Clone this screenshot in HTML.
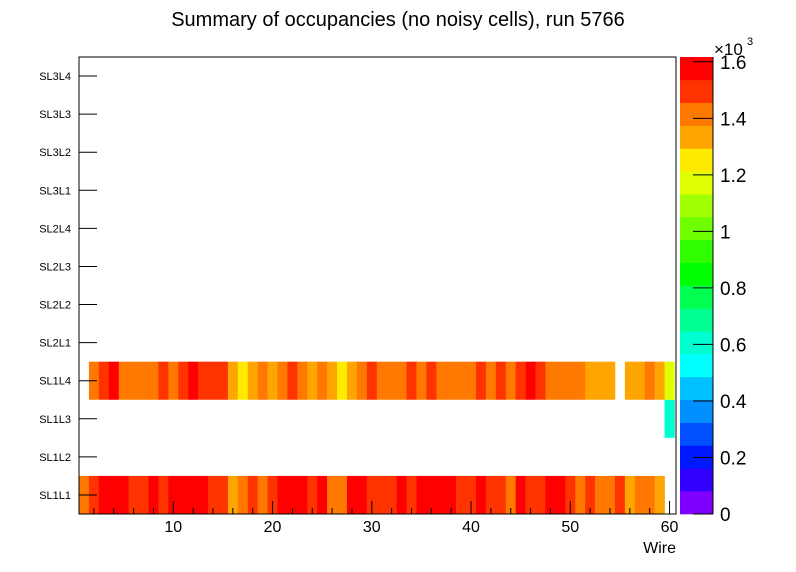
<!DOCTYPE html>
<html><head><meta charset="utf-8"><style>
body{margin:0;background:#fff;}
svg{display:block;font-family:"Liberation Sans",sans-serif;}
</style></head><body>
<svg id="chart" width="796" height="572"></svg>
<script>
const rowLabels=["SL1L1","SL1L2","SL1L3","SL1L4","SL2L1","SL2L2","SL2L3","SL2L4","SL3L1","SL3L2","SL3L3","SL3L4"];
const R=1580,F=1500,O=1420,A=1340,Y=1260,G=1180,C=600,E=0;
const sl1l1=[O,F,R,R,R,F,F,R,F,R,R,R,R,F,F,A,O,F,O,F,R,R,R,F,R,O,O,R,R,F,F,F,R,F,R,R,R,R,F,F,R,F,F,O,R,F,F,R,R,F,O,F,O,O,F,A,O,O,A,E];
const sl1l3=[E,E,E,E,E,E,E,E,E,E,E,E,E,E,E,E,E,E,E,E,E,E,E,E,E,E,E,E,E,E,E,E,E,E,E,E,E,E,E,E,E,E,E,E,E,E,E,E,E,E,E,E,E,E,E,E,E,E,E,C];
const sl1l4=[E,O,F,R,O,O,O,O,F,O,F,R,F,F,F,A,Y,A,O,A,O,F,O,A,O,A,Y,A,O,F,O,O,O,F,O,F,O,O,O,O,F,O,F,O,F,R,F,O,O,O,O,A,A,A,E,A,A,O,A,G];
const xTicks=[10,20,30,40,50,60];
const zTicks=[0,0.2,0.4,0.6,0.8,1,1.2,1.4,1.6];
const palette=["#8000ff","#3300ff","#0019ff","#0050ff","#0090ff","#00c0ff","#00ffff","#00ffd0","#00ff90","#00ff50","#00ff00","#30ff00","#70ff00","#a0ff00","#e0ff00","#ffeb00","#ffa500","#ff7800","#ff3300","#ff0000"];
const zMax=1617;
const svg=document.getElementById('chart');
const NS="http://www.w3.org/2000/svg";
const X0=79,X1=676,Y0=57,Y1=514;
const xs=w=>X0+(w-0.5)*(X1-X0-1.5)/60;
const ys=r=>Y1-r*(Y1-Y0)/12;
const zs=v=>Y1-v*(Y1-Y0)/zMax;
function mk(t,a,txt){const e=document.createElementNS(NS,t);for(const k in a)e.setAttribute(k,a[k]);if(txt!==undefined)e.textContent=txt;svg.appendChild(e);return e;}
function col(v){let i=Math.floor(v/zMax*20);if(i>19)i=19;if(i<0)i=0;return palette[i];}
const rows=[[0,sl1l1],[2,sl1l3],[3,sl1l4]];
rows.forEach(([r,arr])=>{arr.forEach((v,i)=>{if(v<=0)return;const w=i+1;
const c=mk('rect',{x:xs(w-0.5),y:ys(r+1),width:xs(w+0.5)-xs(w-0.5)+0.3,height:ys(r)-ys(r+1),fill:col(v)});

});});
const fr=mk('rect',{x:X0,y:Y0,width:X1-X0,height:Y1-Y0,fill:'none',stroke:'#000','stroke-width':1});

rowLabels.forEach((l,r)=>{const yc=(ys(r)+ys(r+1))/2;
mk('line',{x1:X0,x2:X0+18,y1:yc,y2:yc,stroke:'#000'});
const t=mk('text',{x:71,y:yc+4,'text-anchor':'end','font-size':11},l);
});
for(let w=2;w<=60;w+=2){const x=xs(w);const maj=w%10===0;mk('line',{x1:x,x2:x,y1:Y1,y2:Y1-(maj?13:6),stroke:'#000'});}
xTicks.forEach(v=>{const t=mk('text',{x:xs(v),y:532,'text-anchor':'middle','font-size':16},String(v));
});
const xt=mk('text',{x:676,y:553,'text-anchor':'end','font-size':16},'Wire');

const ti=mk('text',{x:398,y:26,'text-anchor':'middle','font-size':20},'Summary of occupancies (no noisy cells), run 5766');

palette.forEach((c,i)=>{const r=mk('rect',{x:680,y:zs((i+1)*zMax/20),width:33,height:zs(i*zMax/20)-zs((i+1)*zMax/20)+0.3,fill:c});
});
mk('line',{x1:713,x2:713,y1:Y0,y2:Y1,stroke:'#000'});
zTicks.forEach(v=>{const y=zs(v*1000);mk('line',{x1:693,x2:713,y1:y,y2:y,stroke:'#000'});
const t=mk('text',{x:720,y:y+7,'font-size':19},String(v));
});
const ex=mk('text',{x:714,y:55,'font-size':17},'×10');
mk('text',{x:747,y:45,'font-size':11},'3');
</script>
</body></html>
